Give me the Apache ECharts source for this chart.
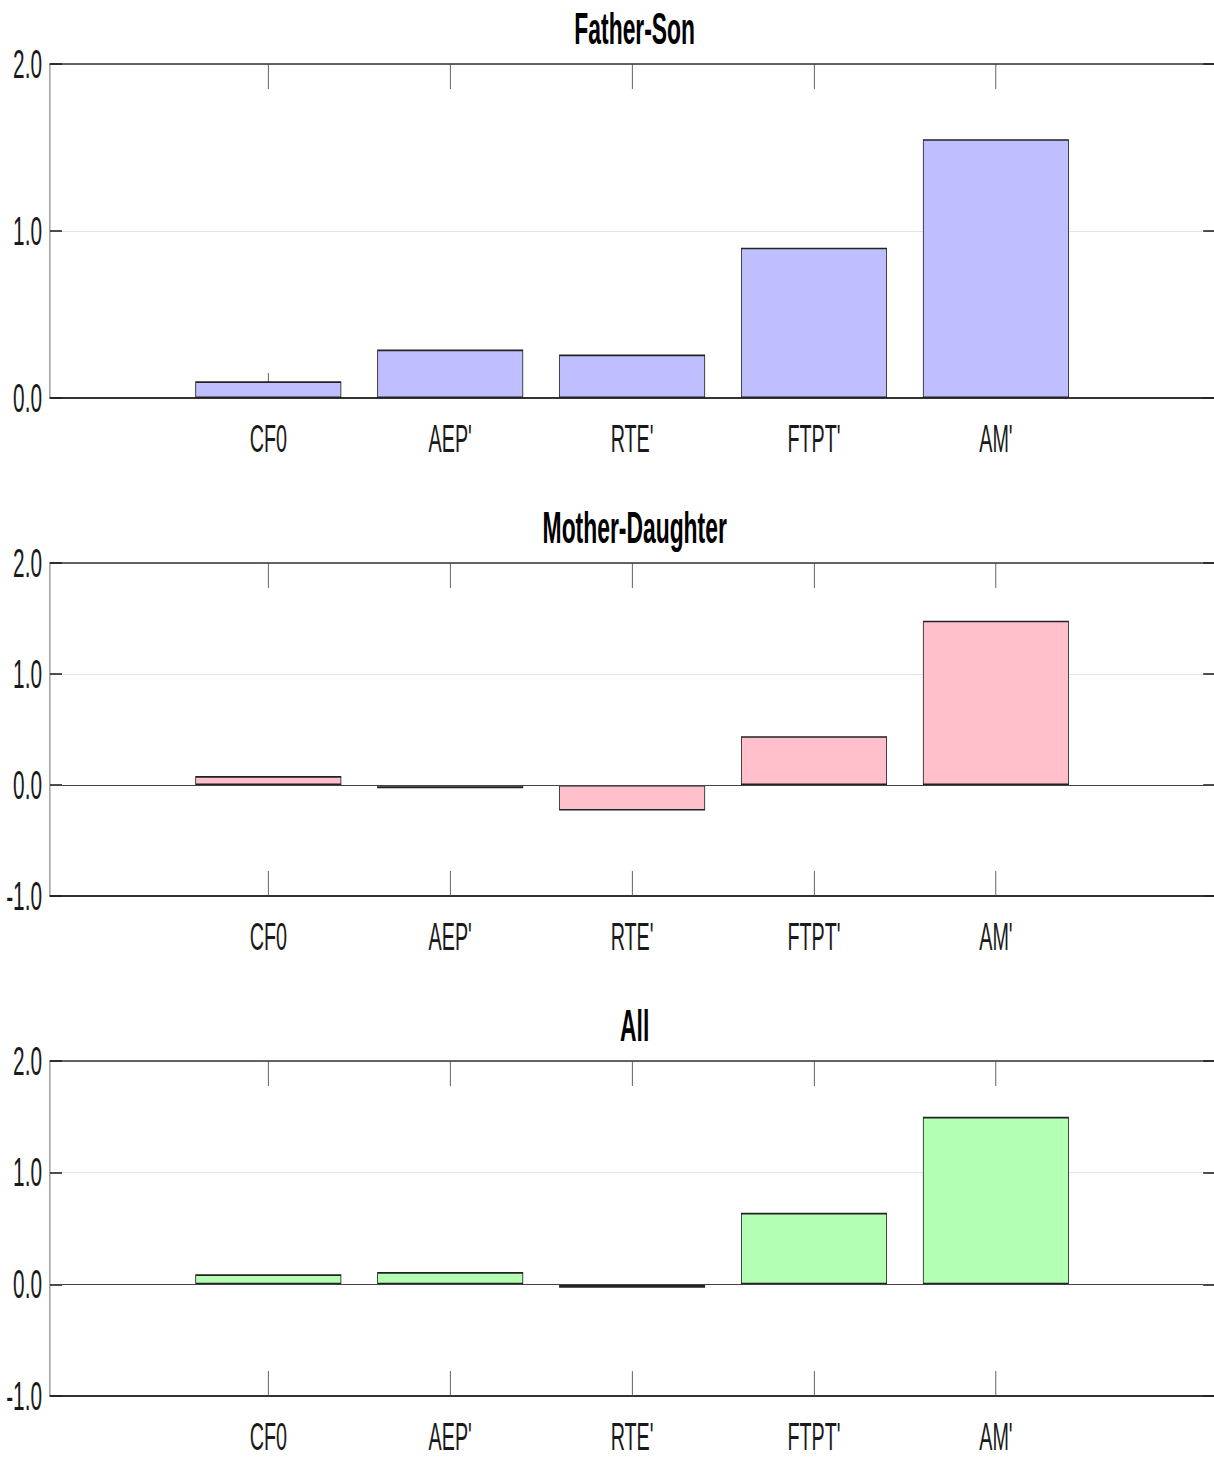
<!DOCTYPE html>
<html>
<head>
<meta charset="utf-8">
<script src="https://cdn.jsdelivr.net/npm/echarts@6/dist/echarts.min.js"></script>
<style>
  html, body { margin: 0; padding: 0; background: #fff; overflow: hidden; }
  #wrap { width: 1214px; height: 1460px; overflow: hidden; }
  #chart { height: 1460px; transform-origin: 0 0; }
</style>
</head>
<body>
<div id="wrap"><div id="chart"></div></div>
<script>
// Decomposition components shown on the x axis
const categories = ["CF0", "AEP'", "RTE'", "FTPT'", "AM'"];

// Bar heights for each sample
const fatherSon = [0.10, 0.29, 0.26, 0.90, 1.55];
const motherDaughter = [0.08, -0.03, -0.23, 0.44, 1.48];
const allPairs = [0.09, 0.11, -0.03, 0.64, 1.50];

// Panel titles
const titles = ["Father-Son", "Mother-Daughter", "All"];

// The figure is laid out wide and then compressed horizontally,
// which gives the narrow lettering and hairline verticals.
const SX = 0.52;
const W = Math.round(1214 / SX);
const hx = v => v / SX; // horizontal size in layout units

const el = document.getElementById('chart');
el.style.width = W + 'px';
el.style.transform = 'scaleX(' + SX + ')';

const panels = [
  { title: titles[0], values: fatherSon,      color: '#bfbfff', yMin: 0,  yMax: 2, top: 64,  height: 334 },
  { title: titles[1], values: motherDaughter, color: '#ffbfcb', yMin: -1, yMax: 2, top: 563, height: 333 },
  { title: titles[2], values: allPairs,       color: '#b3ffb3', yMin: -1, yMax: 2, top: 1061, height: 335 }
];

const tickPos = categories.map((c, i) => i + 1);
const FONT = "'Liberation Sans', Arial, Helvetica, sans-serif";
const gridLeft = hx(50);
const gridRight = 0;

const option = {
  animation: false,
  backgroundColor: '#fff',
  title: [], grid: [], xAxis: [], yAxis: [], series: []
};

panels.forEach((p, k) => {
  option.title.push({
    text: p.title,
    left: (gridLeft + (W - gridRight)) / 2,
    textAlign: 'center',
    top: p.top - 63,
    textStyle: { fontFamily: FONT, fontSize: 44, fontWeight: 'bold', color: '#000' }
  });
  option.grid.push({ left: gridLeft, right: gridRight, top: p.top, height: p.height, containLabel: false, outerBoundsMode: 'none' });

  // bottom axis: category names
  option.xAxis.push({
    type: 'value', gridIndex: k, position: 'bottom', min: -0.2, max: 6.2,
    axisLine: { show: true, onZero: false, lineStyle: { color: '#333', width: 1.8 } },
    axisTick: { show: true, inside: true, length: 25, customValues: tickPos, lineStyle: { color: '#444', width: 1.6 } },
    axisLabel: {
      show: true, customValues: tickPos, margin: 22,
      formatter: v => categories[Math.round(v) - 1] || '',
      fontFamily: FONT, fontSize: 38, lineHeight: 38, color: '#1a1a1a'
    },
    splitLine: { show: false }
  });
  // top border with matching ticks
  option.xAxis.push({
    type: 'value', gridIndex: k, position: 'top', min: -0.2, max: 6.2,
    axisLine: { show: true, onZero: false, lineStyle: { color: '#333', width: 1.6 } },
    axisTick: { show: true, inside: true, length: 25, customValues: tickPos, lineStyle: { color: '#444', width: 1.6 } },
    axisLabel: { show: false },
    splitLine: { show: false }
  });
  // left value axis
  option.yAxis.push({
    type: 'value', gridIndex: k, position: 'left', min: p.yMin, max: p.yMax, interval: 1,
    axisLine: { show: true, onZero: false, lineStyle: { color: '#555', width: 1.6 } },
    axisTick: { show: true, inside: true, length: hx(12), lineStyle: { color: '#222', width: 1.6 } },
    axisLabel: { show: true, margin: hx(8), formatter: v => v.toFixed(1), fontFamily: FONT, fontSize: 40, color: '#1a1a1a' },
    splitLine: { show: true, lineStyle: { color: '#dcdcdc', width: 1 } }
  });
  // right side ticks
  option.yAxis.push({
    type: 'value', gridIndex: k, position: 'right', min: p.yMin, max: p.yMax, interval: 1,
    axisLine: { show: false, onZero: false },
    axisTick: { show: true, inside: true, length: hx(11), lineStyle: { color: '#222', width: 1.6 } },
    axisLabel: { show: false },
    splitLine: { show: false }
  });

  option.series.push({
    type: 'bar',
    xAxisIndex: 2 * k, yAxisIndex: 2 * k,
    barWidth: hx(146),
    data: p.values.map((v, i) => [i + 1, v]),
    itemStyle: { color: p.color, borderColor: '#222', borderWidth: 1.6 },
    markLine: p.yMin < 0 ? {
      silent: true, symbol: 'none', label: { show: false },
      lineStyle: { color: '#444', width: 1.2, type: 'solid' },
      data: [{ yAxis: 0 }]
    } : undefined,
    z: 3
  });
});

const chart = echarts.init(el, null, { renderer: 'svg', width: W, height: 1460 });
chart.setOption(option);
</script>
</body>
</html>
